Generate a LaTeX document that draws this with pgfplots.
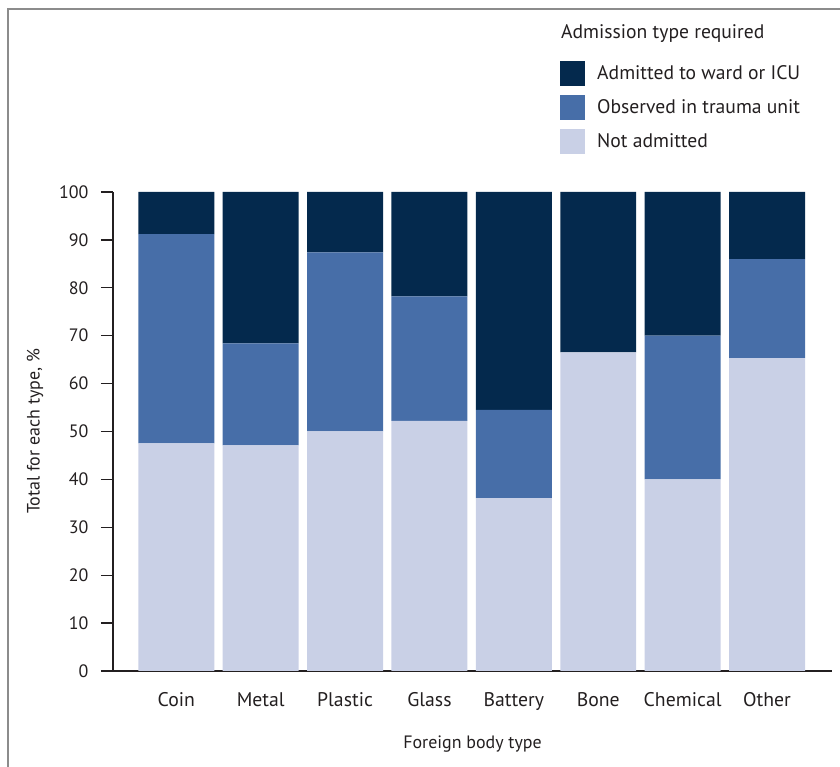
\documentclass[border=0pt]{standalone}
\usepackage{pgfplots}
\pgfplotsset{compat=1.18}
\usepackage{fontspec}
\setmainfont{PT Sans}
\definecolor{cdark}{HTML}{04294D}
\definecolor{cmid}{HTML}{476EA8}
\definecolor{clight}{HTML}{C9D0E6}
\definecolor{txt}{HTML}{231F20}
\begin{document}
\begin{tikzpicture}
\path[use as bounding box] (0,0) rectangle (840bp,767bp);
\draw[black!45, line width=1.3bp] (8bp,0) -- (8bp,758bp) -- (840bp,758bp);
\begin{axis}[
  at={(113bp,96bp)}, anchor=south west,
  scale only axis, width=719bp, height=479bp,
  ybar stacked, bar width=0.9,
  ymin=0, ymax=100, xmin=-0.75, xmax=7.77,
  axis x line*=bottom, axis y line*=left,
  axis line style={-, line width=1.3bp, color=txt},
  ytick={0,10,...,100},
  xtick={0,...,7},
  xticklabels={Coin,Metal,Plastic,Glass,Battery,Bone,Chemical,Other},
  major x tick style={draw=none},
  major y tick style={line width=1.3bp, color=txt},
  tick align=outside, major tick length=12bp,
  /pgf/number format/assume math mode=true,
  yticklabel style={font=\fontsize{18}{21}\selectfont, text=txt, xshift=-9bp},
  xticklabel style={font=\fontsize{19.8}{23}\selectfont, text=txt, yshift=-6bp},
  ylabel={Total for each type, \%},
  xlabel={Foreign body type},
  every axis y label/.style={at={(axis description cs:-0.1085,0.5)},rotate=90,anchor=center,
    font=\fontsize{18}{21}\selectfont, text=txt},
  every axis x label/.style={at={(axis description cs:0.5,-0.1524)},anchor=center,
    font=\fontsize{18}{21}\selectfont, text=txt},
  legend style={at={(axis description cs:0.6217,1.2735)}, anchor=north west, draw=none, fill=none,
    inner sep=0pt, row sep=9bp, column sep=12bp,
    nodes={inner sep=0pt, font=\fontsize{19.7}{23}\selectfont, text=txt}},
  legend cell align=left,
  reverse legend,
  legend image code/.code={\fill[#1,draw=none] (0bp,-12.5bp) rectangle (25bp,12.5bp);},
]
\addplot[fill=clight, draw=none] coordinates {(0,47.5) (1,47.1) (2,50.0) (3,52.2) (4,36.1) (5,66.5) (6,40.0) (7,65.3)};
\addplot[fill=cmid, draw=none] coordinates {(0,43.7) (1,21.3) (2,37.4) (3,26.0) (4,18.4) (5,0) (6,30.0) (7,20.7)};
\addplot[fill=cdark, draw=none] coordinates {(0,8.8) (1,31.6) (2,12.6) (3,21.8) (4,45.5) (5,33.5) (6,30.0) (7,14.0)};
\legend{Not admitted, Observed in trauma unit, Admitted to ward or ICU}
\end{axis}
\node[anchor=west, inner sep=0pt, text=txt, font=\fontsize{19.7}{23}\selectfont] at (561bp,733bp) {Admission type required};
\end{tikzpicture}
\end{document}
